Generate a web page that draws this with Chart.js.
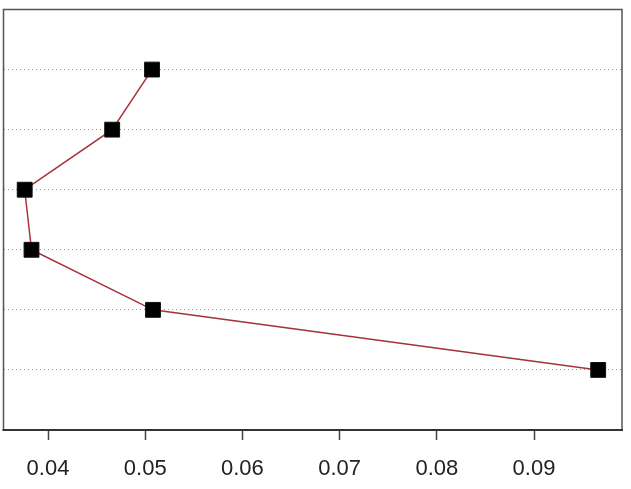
<!DOCTYPE html>
<html>
<head>
<meta charset="utf-8">
<script src="https://cdn.jsdelivr.net/npm/chart.js@4/dist/chart.umd.min.js"></script>
<style>
html,body{margin:0;padding:0;background:#fff;overflow:hidden;}
#wrap{width:631px;height:489px;}
</style>
</head>
<body>
<div id="wrap"><canvas id="c" width="631" height="489"></canvas></div>
<script>
// Data
const levels = [6, 5, 4, 3, 2, 1];
const xValues = [0.0507, 0.0466, 0.0376, 0.0383, 0.0508, 0.0966];
const xTicks = [0.04, 0.05, 0.06, 0.07, 0.08, 0.09];

const points = xValues.map((v, i) => ({ x: v, y: levels[i] }));

const boxPlugin = {
  id: 'box',
  afterDraw(chart) {
    const a = chart.chartArea, ctx = chart.ctx;
    ctx.save();
    ctx.strokeStyle = '#555';
    ctx.lineWidth = 1.5;
    ctx.strokeRect(a.left, a.top, a.right - a.left, a.bottom - a.top);
    ctx.strokeStyle = '#333';
    ctx.lineWidth = 2;
    ctx.beginPath();
    ctx.moveTo(a.left - 1, a.bottom);
    ctx.lineTo(a.right + 1, a.bottom);
    ctx.stroke();
    ctx.restore();
  }
};

new Chart(document.getElementById('c'), {
  type: 'scatter',
  data: {
    datasets: [{
      data: points,
      showLine: true,
      borderColor: '#a3343a',
      borderWidth: 1.5,
      pointStyle: 'rect',
      pointRadius: 10.5,
      pointHoverRadius: 10.5,
      pointBackgroundColor: '#000',
      pointBorderColor: '#111',
      pointBorderWidth: 1
    }]
  },
  options: {
    responsive: false,
    animation: false,
    devicePixelRatio: 1,
    layout: { autoPadding: false, padding: { left: 3.5, top: 9.5, right: 9, bottom: 0 } },
    plugins: { legend: { display: false }, tooltip: { enabled: false } },
    scales: {
      x: {
        type: 'linear',
        min: 0.03542,
        max: 0.09905,
        afterBuildTicks: s => { s.ticks = xTicks.map(v => ({ value: v })); },
        afterFit: s => { s.height = 59; },
        ticks: {
          callback: v => v.toFixed(2),
          color: '#222',
          font: { family: 'Liberation Sans, Arial, sans-serif', size: 22 },
          padding: 16,
          maxRotation: 0
        },
        grid: { drawOnChartArea: false, drawTicks: true, tickLength: 10, tickColor: '#444', tickWidth: 1.5 },
        border: { display: false }
      },
      y: {
        type: 'linear',
        min: 0,
        max: 7,
        afterBuildTicks: s => { s.ticks = levels.map(v => ({ value: v })); },
        afterFit: s => { s.width = 0; },
        ticks: { display: false },
        grid: { drawTicks: false, color: '#999', lineWidth: 1 },
        border: { display: false, dash: [1, 3] }
      }
    }
  },
  plugins: [boxPlugin]
});
</script>
</body>
</html>
